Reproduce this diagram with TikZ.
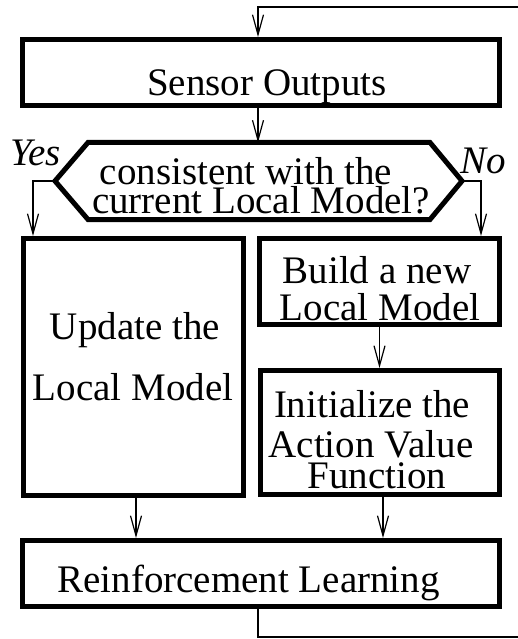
\documentclass[tikz,border=0pt]{standalone}
\usepackage{fontspec}
\setmainfont{Liberation Serif}
\usetikzlibrary{arrows.meta}

\begin{document}
\begin{tikzpicture}[x=1pt,y=-1pt,
  box/.style={draw, line width=5pt, inner sep=0pt, miter limit=10},
  lbl/.style={inner sep=0pt, anchor=base, font=\fontsize{39}{39}\selectfont},
  side/.style={inner sep=0pt, anchor=base west, font=\fontsize{39}{39}\selectfont\itshape},
  arr/.style={line width=1.2pt, -{Straight Barb[length=20pt,width=11pt]}},
  wire/.style={line width=1.2pt}]

\useasboundingbox (0,0) rectangle (517,639);

% process boxes
\node[box, minimum width=477pt, minimum height=66pt]  (sensor) at (261,72.5)  {};
\node[box, minimum width=220pt, minimum height=257pt] (upd)    at (133.5,367) {};
\node[box, minimum width=240pt, minimum height=86pt]  (build)  at (379.5,281.5) {};
\node[box, minimum width=239pt, minimum height=124pt] (init)   at (380,432.5) {};
\node[box, minimum width=477pt, minimum height=66pt]  (rl)     at (261,573.5) {};

% decision hexagon
\coordinate (hN)  at (258,142.5);
\coordinate (hW)  at (55,181);
\coordinate (hE)  at (462,181);
\draw[line width=5pt, miter limit=10]
  (88,142.5) -- (430,142.5) -- (hE) -- (430,219.5) -- (88,219.5) -- (hW) -- cycle;

% texts
\node[lbl] (tSensor) at (267,96)   {Sensor Outputs};
\node[lbl] (tQ1)     at (246,185)  {consistent with the};
\node[lbl] (tQ2)     at (261,213)  {current Local Model?};
\node[side] (tYes)   at (10,166)   {Yes};
\node[side] (tNo)    at (460,173)  {No};
\node[lbl] (tUpd1)   at (135,339)  {Update the};
\node[lbl] (tUpd2)   at (133,400)  {Local Model};
\node[lbl] (tBld1)   at (377,283)  {Build a new};
\node[lbl] (tBld2)   at (380,320)  {Local Model};
\node[lbl] (tIni1)   at (372,417)  {Initialize the};
\node[lbl] (tIni2)   at (371,457)  {Action Value};
\node[lbl] (tIni3)   at (377,488)  {Function};
\node[lbl] (tRL)     at (248.5,592) {Reinforcement Learning};

% connectors
\draw[arr] ([xshift=-3pt]sensor.south) -- (sensor.south -| hN) -- (hN);
\draw[arr] (hW) -| ([xshift=12pt]upd.north west);
\draw[arr] (hE) -| ([xshift=-21pt]build.north east);
\draw[arr] (build.south) -- (build.south |- init.north);
\draw[arr] ([xshift=2.5pt]upd.south) -- ([xshift=2.5pt]upd.south |- rl.north);
\draw[arr] ([xshift=3pt]init.south) -- ([xshift=3pt]init.south |- rl.north);

% feedback loop from the learning step back to the sensors
\coordinate (loopB) at (523,637);
\coordinate (loopT) at (523,7);
\draw[arr] ([xshift=-3pt]rl.south) |- (loopB) -- (loopT) -| ([xshift=-3pt]sensor.north);
\end{tikzpicture}
\end{document}
